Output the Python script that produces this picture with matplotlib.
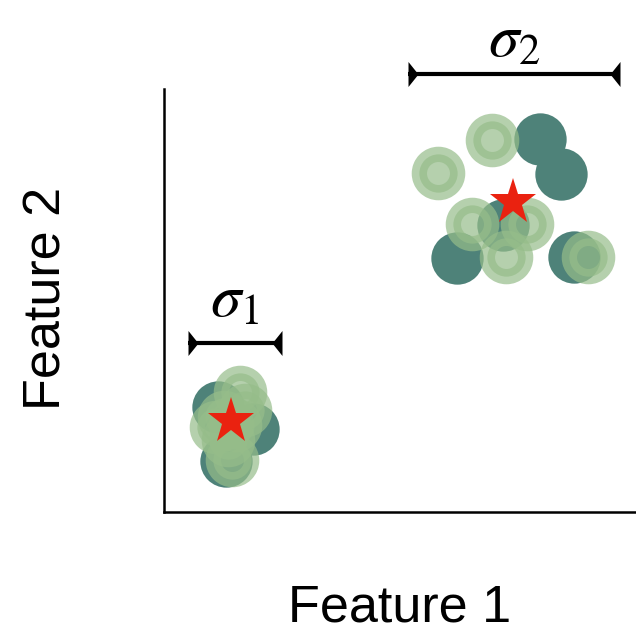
import matplotlib
matplotlib.use("Agg")
import matplotlib.pyplot as plt

plt.rcParams['font.family'] = ['Liberation Sans', 'DejaVu Sans']
plt.rcParams['mathtext.fontset'] = 'stix'

# Cluster 1 (tight) - positions in axis units
c1_dark_x = [54, 89, 62]
c1_dark_y = [105, 83, 51]
c1_light_x = [76, 52, 68, 71, 64, 81, 60]
c1_light_y = [120, 85, 52, 87, 72, 102, 95]
c1_center = (67, 91)

# Cluster 2 (wide)
c2_dark_x = [376, 397, 293, 410, 339]
c2_dark_y = [373, 338, 254, 255, 287]
c2_light_x = [328, 274, 308, 363, 342, 424]
c2_light_y = [372, 339, 288, 288, 255, 255]
c2_center = (349, 310)

# Spread markers (sigma) : x start, x end, y
sigma1 = (24, 118, 169)
sigma2 = (244, 456, 438)

dark_color = '#4e8279'
light_color = '#96bd8a'
star_color = '#ea2210'

fig = plt.figure(figsize=(6.36, 6.35), dpi=100)
ax = fig.add_axes([164 / 636, 123 / 635, 472 / 636, 423 / 635])

# dark points
ax.scatter(c1_dark_x + c2_dark_x, c1_dark_y + c2_dark_y, s=1420,
           color=dark_color, linewidths=0, zorder=2)
# light points, with thick translucent edge
ax.scatter(c1_light_x + c2_light_x, c1_light_y + c2_light_y, s=760,
           facecolor=light_color, edgecolor=light_color, linewidths=11,
           alpha=0.7, zorder=3)

# centres
for cx, cy in [c1_center, c2_center]:
    ax.plot(cx, cy, marker='*', markersize=35, color=star_color,
            markeredgewidth=0, zorder=4)

# sigma brackets
left_head = [(0, -1), (0.8, 0), (0, 1)]
right_head = [(0, -1), (-0.8, 0), (0, 1)]
for (x0, x1, y), lab, ty in [(sigma1, r'$\sigma_1$', 42), (sigma2, r'$\sigma_2$', 33)]:
    ax.plot([x0, x1], [y, y], color='black', lw=3, clip_on=False, zorder=5,
            solid_capstyle='butt')
    ax.plot(x0, y, marker=left_head, markersize=18, color='black',
            markeredgewidth=0, clip_on=False, zorder=5)
    ax.plot(x1, y, marker=right_head, markersize=18, color='black',
            markeredgewidth=0, clip_on=False, zorder=5)
    ax.text((x0 + x1) / 2, y + ty, lab, fontsize=44, ha='center',
            va='center', clip_on=False)

ax.set_xlim(0, 472)
ax.set_ylim(0, 423)
ax.set_xticks([])
ax.set_yticks([])
ax.spines['top'].set_visible(False)
ax.spines['right'].set_visible(False)
for side in ['left', 'bottom']:
    ax.spines[side].set_linewidth(1.8)
    ax.spines[side].set_color('black')

fig.text(400 / 636, 1 - 608 / 635, 'Feature 1', fontsize=37.5, ha='center', va='center')
fig.text(47 / 636, 1 - 298 / 635, 'Feature 2', fontsize=37.5, ha='center', va='center',
         rotation=90)

fig.savefig('out.png', dpi=100)
